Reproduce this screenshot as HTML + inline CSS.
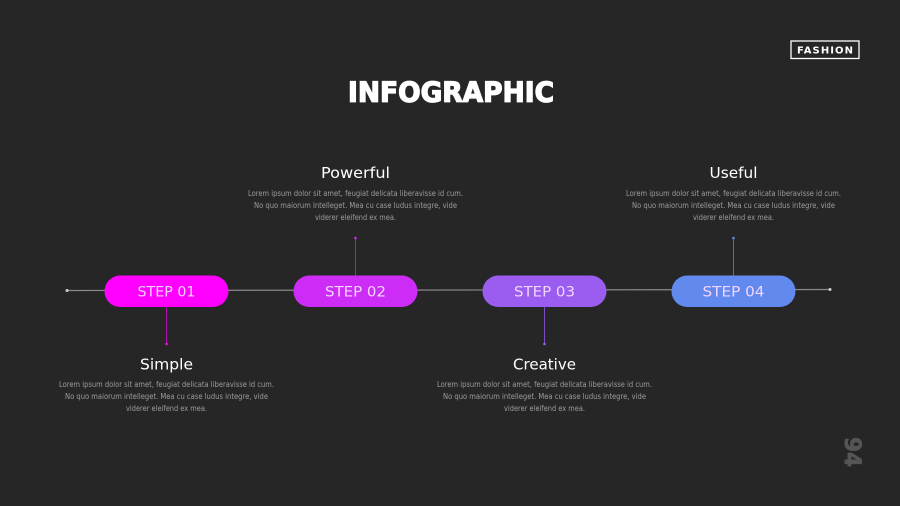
<!DOCTYPE html>
<html>
<head>
<meta charset="utf-8">
<style>
html,body{margin:0;padding:0;background:#262626;width:900px;height:506px;overflow:hidden}
svg{display:block}
text{font-family:"DejaVu Sans","Liberation Sans",sans-serif;text-anchor:middle}
.b{fill:#9c9c9c;font-size:7.5px}
.h{fill:#fff;font-size:15px}
.s{fill:#f3d6ff;font-size:14px;font-weight:normal}
</style>
</head>
<body>
<svg width="900" height="506" viewBox="0 0 900 506" xmlns="http://www.w3.org/2000/svg">
<rect width="900" height="506" fill="#262626"/>

<rect x="791" y="41" width="68" height="17.500" fill="none" stroke="#fff" stroke-width="1.300"/>
<text x="825" y="53.500" font-size="10" font-weight="bold" fill="#fff" textLength="56" lengthAdjust="spacing">FASHION</text>

<text x="451" y="101.500" font-size="28" font-weight="bold" fill="#fff" stroke="#fff" stroke-width="1.300" textLength="206" lengthAdjust="spacingAndGlyphs">INFOGRAPHIC</text>

<line x1="67" y1="290.500" x2="831" y2="289.500" stroke="#8a8a8a" stroke-width="1.200"/>
<circle cx="67" cy="290.500" r="1.500" fill="#d0d0d0"/>
<circle cx="830" cy="289.500" r="1.500" fill="#d0d0d0"/>

<line x1="166.500" y1="306" x2="166.500" y2="344" stroke="#b010b0" stroke-width="1"/>
<circle cx="166.500" cy="344" r="1.300" fill="#ff00ff"/>
<line x1="355.500" y1="276" x2="355.500" y2="238" stroke="#a022c4" stroke-width="1"/>
<circle cx="355.500" cy="238" r="1.300" fill="#cc2cf5"/>
<line x1="544.500" y1="306" x2="544.500" y2="344" stroke="#7a4cc0" stroke-width="1"/>
<circle cx="544.500" cy="344" r="1.300" fill="#9b5cf0"/>
<line x1="733.500" y1="276" x2="733.500" y2="238" stroke="#4a6cc8" stroke-width="1"/>
<circle cx="733.500" cy="238" r="1.300" fill="#6289ee"/>

<rect x="104.500" y="275.500" width="124" height="31.500" rx="15.700" fill="#ff00ff"/>
<rect x="293.500" y="275.500" width="124" height="31.500" rx="15.700" fill="#cc2cf5"/>
<rect x="482.500" y="275.500" width="124" height="31.500" rx="15.700" fill="#9b5cf0"/>
<rect x="671.500" y="275.500" width="124" height="31.500" rx="15.700" fill="#6289ee"/>

<text class="s" x="166.500" y="296.500" textLength="58" lengthAdjust="spacingAndGlyphs">STEP 01</text>
<text class="s" x="355.500" y="296.500" textLength="61" lengthAdjust="spacingAndGlyphs">STEP 02</text>
<text class="s" x="544.500" y="296.500" textLength="61" lengthAdjust="spacingAndGlyphs">STEP 03</text>
<text class="s" x="733.500" y="296.500" textLength="62" lengthAdjust="spacingAndGlyphs">STEP 04</text>

<text class="h" x="355.500" y="178" textLength="69" lengthAdjust="spacingAndGlyphs">Powerful</text>
<text class="b" x="355.500" y="196" textLength="215" lengthAdjust="spacingAndGlyphs">Lorem ipsum dolor sit amet, feugiat delicata liberavisse id cum.</text>
<text class="b" x="355.500" y="208" textLength="203" lengthAdjust="spacingAndGlyphs">No quo maiorum intelleget. Mea cu case ludus integre, vide</text>
<text class="b" x="355.500" y="220" textLength="81" lengthAdjust="spacingAndGlyphs">viderer eleifend ex mea.</text>

<text class="h" x="733.500" y="178" textLength="48" lengthAdjust="spacingAndGlyphs">Useful</text>
<text class="b" x="733.500" y="196" textLength="215" lengthAdjust="spacingAndGlyphs">Lorem ipsum dolor sit amet, feugiat delicata liberavisse id cum.</text>
<text class="b" x="733.500" y="208" textLength="203" lengthAdjust="spacingAndGlyphs">No quo maiorum intelleget. Mea cu case ludus integre, vide</text>
<text class="b" x="733.500" y="220" textLength="81" lengthAdjust="spacingAndGlyphs">viderer eleifend ex mea.</text>

<text class="h" x="166.500" y="369.500" textLength="53" lengthAdjust="spacingAndGlyphs">Simple</text>
<text class="b" x="166.500" y="387" textLength="215" lengthAdjust="spacingAndGlyphs">Lorem ipsum dolor sit amet, feugiat delicata liberavisse id cum.</text>
<text class="b" x="166.500" y="399" textLength="203" lengthAdjust="spacingAndGlyphs">No quo maiorum intelleget. Mea cu case ludus integre, vide</text>
<text class="b" x="166.500" y="411" textLength="81" lengthAdjust="spacingAndGlyphs">viderer eleifend ex mea.</text>

<text class="h" x="544.500" y="369.500" textLength="63" lengthAdjust="spacingAndGlyphs">Creative</text>
<text class="b" x="544.500" y="387" textLength="215" lengthAdjust="spacingAndGlyphs">Lorem ipsum dolor sit amet, feugiat delicata liberavisse id cum.</text>
<text class="b" x="544.500" y="399" textLength="203" lengthAdjust="spacingAndGlyphs">No quo maiorum intelleget. Mea cu case ludus integre, vide</text>
<text class="b" x="544.500" y="411" textLength="81" lengthAdjust="spacingAndGlyphs">viderer eleifend ex mea.</text>

<text transform="translate(845,452) rotate(90)" x="0" y="0" font-size="22" font-weight="bold" fill="#555" stroke="#555" stroke-width="0.800" textLength="30" lengthAdjust="spacingAndGlyphs">94</text>
</svg>
</body>
</html>
